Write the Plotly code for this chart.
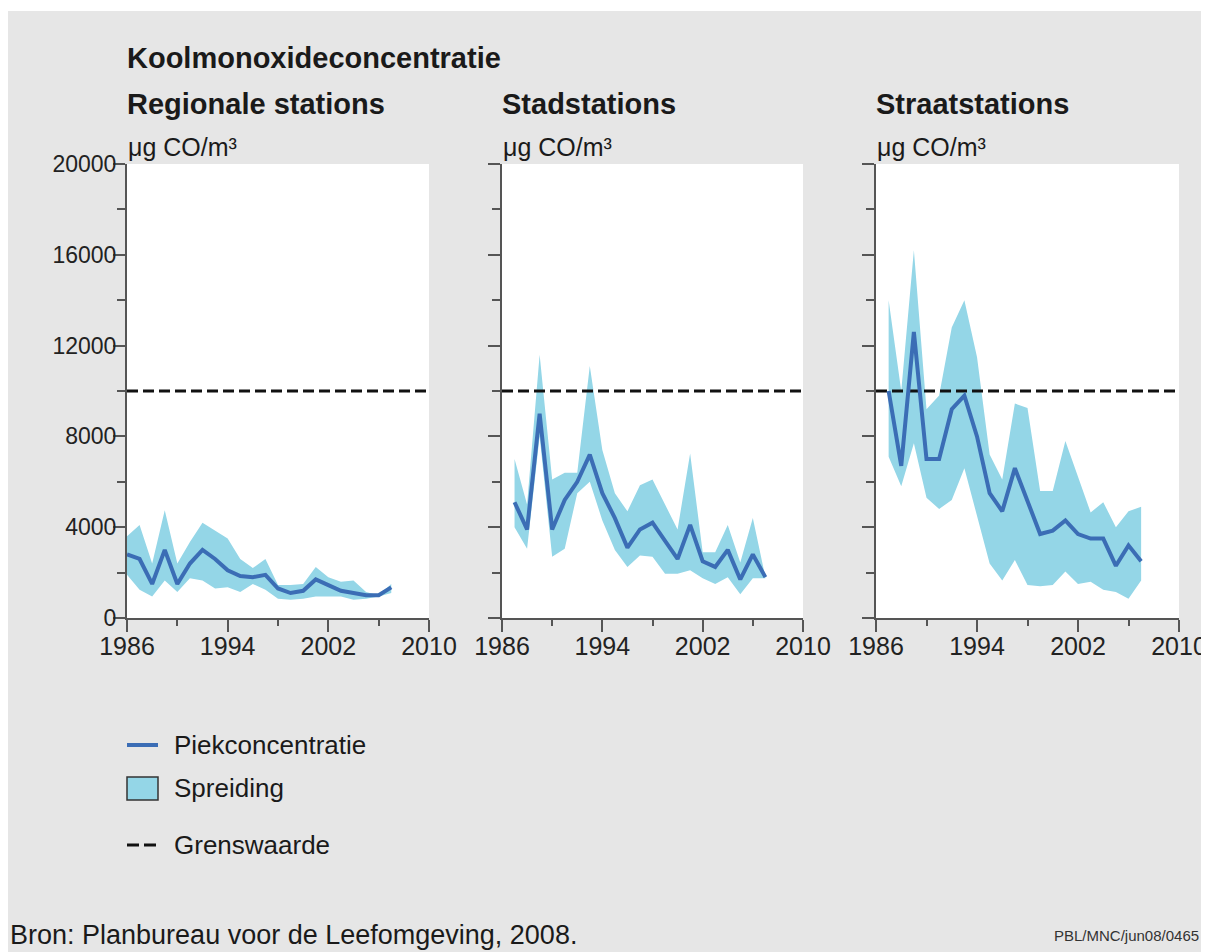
import plotly.graph_objects as go

# ---------------- data ----------------
years_reg = list(range(1986, 2008))
piek_reg = [2800, 2600, 1500, 3000, 1500, 2400, 3000, 2600, 2100, 1850, 1800,
            1900, 1300, 1100, 1200, 1700, 1450, 1200, 1100, 1000, 1000, 1350]
upper_reg = [3600, 4100, 2400, 4750, 2400, 3350, 4200, 3850, 3500, 2600, 2200,
             2600, 1450, 1450, 1500, 2250, 1800, 1600, 1650, 1150, 1000, 1500]
lower_reg = [1900, 1250, 950, 1650, 1150, 1750, 1650, 1300, 1350, 1150, 1500,
             1250, 850, 800, 850, 950, 950, 950, 800, 850, 950, 1100]

years_stad = list(range(1987, 2008))
piek_stad = [5100, 3900, 9000, 3900, 5200, 6000, 7200, 5500, 4400, 3100, 3900,
             4200, 3400, 2600, 4100, 2500, 2250, 3000, 1700, 2800, 1800]
upper_stad = [7000, 5000, 11600, 6100, 6400, 6400, 11100, 7400, 5500, 4700, 5850,
              6100, 5000, 3900, 7250, 2900, 2900, 4100, 2450, 4400, 1800]
lower_stad = [4000, 3050, 8000, 2700, 3050, 5500, 6000, 4300, 3000, 2250, 2750,
              2700, 1950, 1950, 2100, 1750, 1500, 1800, 1050, 1750, 1750]

years_straat = list(range(1987, 2008))
piek_straat = [10000, 6700, 12600, 7000, 7000, 9200, 9800, 8000, 5500, 4700, 6600,
               5200, 3700, 3850, 4300, 3700, 3500, 3500, 2300, 3200, 2500]
upper_straat = [14000, 10000, 16200, 9200, 9800, 12800, 14000, 11500, 7200, 6100, 9450,
                9250, 5600, 5600, 7800, 6200, 4650, 5100, 4000, 4700, 4900]
lower_straat = [7100, 5800, 7700, 5300, 4800, 5200, 6600, 4450, 2400, 1650, 2550,
                1450, 1400, 1450, 2050, 1500, 1600, 1250, 1150, 850, 1650]

grenswaarde = 10000
x_range = [1986, 2010]
y_range = [0, 20000]
x_ticks = [1986, 1994, 2002, 2010]
y_ticks = [0, 4000, 8000, 12000, 16000, 20000]

title = "Koolmonoxideconcentratie"
panel_titles = ["Regionale stations", "Stadstations", "Straatstations"]
unit = "μg CO/m³"
legend_names = ["Piekconcentratie", "Spreiding", "Grenswaarde"]
source = "Bron: Planbureau voor de Leefomgeving, 2008."
code = "PBL/MNC/jun08/0465"

# ---------------- style ----------------
W, H = 1209, 952
BG = "#e6e6e6"
BAND = "#94d6e7"
LINE = "#3b6db5"
AX = "#555555"
TXT = "#1a1a1a"
FONT = "Liberation Sans, Arial, sans-serif"


def fx(v):
    return v / W


def fy(v):
    return 1 - v / H


x_domains = [[119, 421], [494, 795], [868, 1171]]
y_domain = [fy(610), fy(156)]

fig = go.Figure()

panels = [
    (years_reg, piek_reg, upper_reg, lower_reg),
    (years_stad, piek_stad, upper_stad, lower_stad),
    (years_straat, piek_straat, upper_straat, lower_straat),
]

for i, (yrs, piek, up, lo) in enumerate(panels):
    xa = "x" if i == 0 else f"x{i+1}"
    ya = "y" if i == 0 else f"y{i+1}"
    fig.add_trace(go.Scatter(x=yrs, y=lo, mode="lines", line=dict(width=0, color=BAND),
                             hoverinfo="skip", xaxis=xa, yaxis=ya))
    fig.add_trace(go.Scatter(x=yrs, y=up, mode="lines", line=dict(width=0, color=BAND),
                             fill="tonexty", fillcolor=BAND, name=legend_names[1],
                             xaxis=xa, yaxis=ya))
    fig.add_trace(go.Scatter(x=x_range, y=[grenswaarde, grenswaarde], mode="lines",
                             line=dict(color="#111111", width=3, dash="11px,5px"),
                             name=legend_names[2], xaxis=xa, yaxis=ya))
    fig.add_trace(go.Scatter(x=yrs, y=piek, mode="lines", line=dict(color=LINE, width=4),
                             name=legend_names[0], xaxis=xa, yaxis=ya))

layout = dict(
    width=W, height=H,
    margin=dict(l=0, r=0, t=0, b=0, autoexpand=False),
    paper_bgcolor=BG,
    plot_bgcolor="white",
    font=dict(family=FONT, color=TXT, size=25),
    showlegend=False,
)

for i, dom in enumerate(x_domains):
    sx = "" if i == 0 else str(i + 1)
    layout[f"xaxis{sx}"] = dict(
        domain=[fx(dom[0]), fx(dom[1])], range=x_range,
        tickvals=x_ticks, ticktext=[str(t) for t in x_ticks],
        ticks="outside", ticklen=12, tickwidth=1.5, tickcolor=AX,
        ticklabelstandoff=-7,
        showline=True, linecolor=AX, linewidth=2, showgrid=False, zeroline=False,
        tickfont=dict(size=25, color="#222222"),
        minor=dict(tickvals=[1990, 1998, 2006], ticks="outside", ticklen=6,
                   tickwidth=1.5, tickcolor=AX, showgrid=False),
        anchor=f"y{sx}", fixedrange=True,
    )
    layout[f"yaxis{sx}"] = dict(
        domain=y_domain, range=y_range,
        tickvals=y_ticks, ticktext=[str(t) for t in y_ticks],
        ticks="outside", ticklen=12, tickwidth=1.5, tickcolor=AX,
        ticklabelstandoff=-8,
        showline=True, linecolor=AX, linewidth=2, showgrid=False, zeroline=False,
        showticklabels=(i == 0), tickfont=dict(size=23, color="#222222"),
        minor=dict(dtick=2000, tick0=0, ticks="outside", ticklen=8,
                   tickwidth=1.5, tickcolor=AX, showgrid=False),
        anchor=f"x{sx}", fixedrange=True,
    )

fig.update_layout(**layout)

shapes = []
# white strip at the top of the original image
shapes.append(dict(type="rect", xref="paper", yref="paper",
                   x0=0, x1=1, y0=fy(3), y1=1,
                   fillcolor="white", line=dict(width=0), layer="below"))

# legend keys
lx0, lx1 = 119, 150
shapes.append(dict(type="line", xref="paper", yref="paper", x0=fx(lx0), x1=fx(lx1),
                   y0=fy(737), y1=fy(737), line=dict(color=LINE, width=4)))
shapes.append(dict(type="rect", xref="paper", yref="paper", x0=fx(lx0), x1=fx(lx1),
                   y0=fy(792), y1=fy(769), fillcolor=BAND,
                   line=dict(color="#333333", width=1.5)))
shapes.append(dict(type="line", xref="paper", yref="paper", x0=fx(lx0), x1=fx(lx1 - 2),
                   y0=fy(837), y1=fy(837), line=dict(color="#111111", width=3, dash="12px,5px")))
fig.update_layout(shapes=shapes)

ann = []
ann.append(dict(text=f"<b>{title}</b>", x=fx(117), y=fy(50), font=dict(size=29)))
for dom, t in zip(x_domains, panel_titles):
    ann.append(dict(text=f"<b>{t}</b>", x=fx(dom[0] - 2), y=fy(96), font=dict(size=29)))
    ann.append(dict(text=unit, x=fx(dom[0] - 1), y=fy(139), font=dict(size=25)))
for name, yy in zip(legend_names, [737, 780, 837]):
    ann.append(dict(text=name, x=fx(164), y=fy(yy), font=dict(size=26)))
ann.append(dict(text=source, x=fx(0), y=fy(927), font=dict(size=27)))
for a in ann:
    a.update(xref="paper", yref="paper", xanchor="left", yanchor="middle", showarrow=False)
ann.append(dict(text=code, x=fx(1193), y=fy(927), xref="paper", yref="paper",
                xanchor="right", yanchor="middle", showarrow=False,
                font=dict(size=15, color="#333333")))
fig.update_layout(annotations=ann)

fig.write_html("out.html")
